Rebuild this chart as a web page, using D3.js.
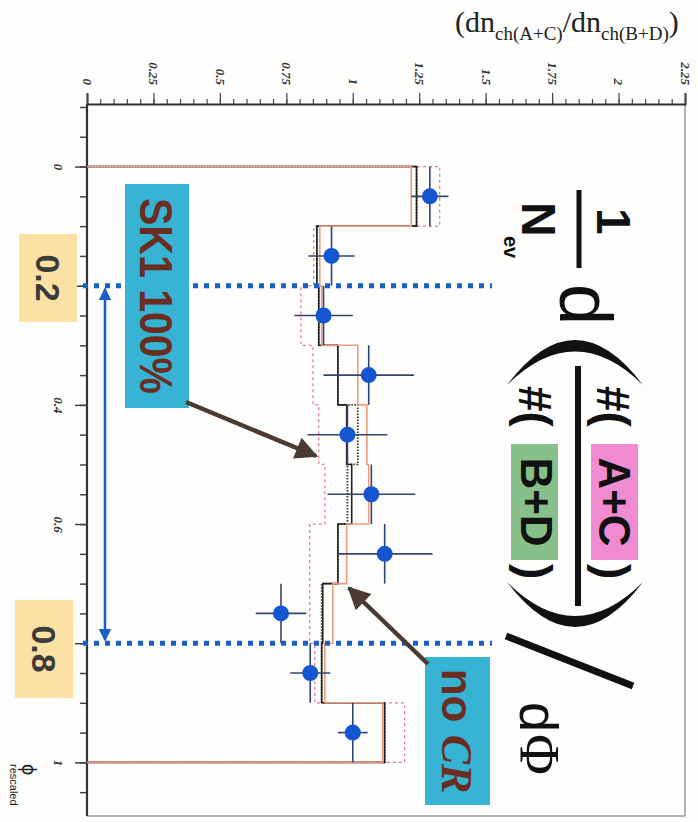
<!DOCTYPE html>
<html>
<head>
<meta charset="utf-8">
<script src="https://cdn.jsdelivr.net/npm/d3@7"></script>
<style>
  body { margin: 0; background: #fff; }
  svg { display: block; }
</style>
</head>
<body>
<svg id="chart" width="698" height="822"></svg>
<script>
// bins of phi (rescaled) and the ratio values
const binEdges = [0, 0.1, 0.2, 0.3, 0.4, 0.5, 0.6, 0.7, 0.8, 0.9, 1.0];
const dataRatio = [1.29, 0.92, 0.89, 1.06, 0.98, 1.07, 1.12, 0.73, 0.84, 1.00];
const dataErr = [0.07, 0.087, 0.11, 0.17, 0.15, 0.165, 0.18, 0.095, 0.075, 0.056];
const mcBlack = [1.24, 0.865, 0.872, 0.944, 0.977, 0.996, 0.944, 0.887, 0.883, 1.12];
const mcSalmon = [1.22, 0.876, 0.883, 1.019, 1.053, 1.06, 0.977, 0.925, 0.895, 1.113];
const mcPink = [1.327, 0.853, 0.805, 0.85, 0.872, 0.895, 0.838, 0.838, 0.857, 1.195];
const mcDotted = [1.24, 0.865, 0.872, 0.944, 1.019, 0.98, 0.944, 0.883, 0.883, 1.12];
const ratioTicks = [0, 0.25, 0.5, 0.75, 1, 1.25, 1.5, 1.75, 2, 2.25];
const phiTicks = [0, 0.2, 0.4, 0.6, 0.8, 1];
const phiMarks = [0.2, 0.8];

const svg = d3.select("#chart");
const phiMin = -0.105, phiMax = 1.09;
const x = d3.scaleLinear().domain([0, 2.25]).range([87, 685]);
const y = d3.scaleLinear().domain([phiMin, phiMax]).range([104, 816]);

svg.append("rect").attr("width", 698).attr("height", 822).attr("fill", "#fdfdfb");

// text turned a quarter clockwise, like the whole scanned plot
function vText(parent, px, py, str) {
    return parent.append("text")
        .attr("transform", `translate(${px},${py}) rotate(90)`)
        .text(str);
}

// frame
svg.append("line").attr("x1", x(2.25)).attr("x2", x(2.25)).attr("y1", y(phiMin)).attr("y2", y(phiMax))
    .attr("stroke", "#999").attr("stroke-width", 1.5);
svg.append("line").attr("x1", x(0)).attr("x2", x(2.25)).attr("y1", y(phiMax)).attr("y2", y(phiMax))
    .attr("stroke", "#999").attr("stroke-width", 1.5);

// ratio axis (top)
const topAxis = svg.append("g").attr("transform", `translate(0,${y(phiMin)})`);
topAxis.append("g")
    .call(d3.axisTop(x).tickValues(d3.range(0, 2.2501, 0.05)).tickSize(5).tickFormat(""))
    .call(g => g.select(".domain").remove());
topAxis.append("g")
    .call(d3.axisTop(x).tickValues(ratioTicks).tickSize(11).tickFormat(d3.format("~g")))
    .call(g => g.select(".domain").attr("stroke", "#333").attr("stroke-width", 2))
    .call(g => g.selectAll("text")
        .attr("y", 0).attr("dy", "0.35em")
        .attr("text-anchor", "end")
        .attr("transform", "translate(0,-19) rotate(90)")
        .attr("font-family", "Liberation Serif")
        .attr("font-style", "italic")
        .attr("font-weight", "bold")
        .attr("font-size", 13)
        .attr("fill", "#333"));
topAxis.selectAll(".tick line").attr("stroke", "#444").attr("stroke-width", 1.2);

// phi axis (left)
const leftAxis = svg.append("g").attr("transform", `translate(${x(0)},0)`);
leftAxis.append("g")
    .call(d3.axisLeft(y).tickValues(d3.range(-0.1, 1.0501, 0.05)).tickSize(7).tickFormat(""))
    .call(g => g.select(".domain").remove());
leftAxis.append("g")
    .call(d3.axisLeft(y).tickValues(phiTicks).tickSize(12).tickFormat(d3.format("~g")))
    .call(g => g.select(".domain").attr("d", `M0,${y(phiMin)}V${y(phiMax)}`)
        .attr("stroke", "#333").attr("stroke-width", 2.2))
    .call(g => g.selectAll("text")
        .attr("x", 0).attr("dy", "0.35em")
        .attr("text-anchor", "middle")
        .attr("transform", "translate(-28,0) rotate(90)")
        .attr("font-family", "Liberation Serif")
        .attr("font-style", "italic")
        .attr("font-weight", "bold")
        .attr("font-size", 13)
        .attr("fill", "#333"));
leftAxis.selectAll(".tick line").attr("stroke", "#444").attr("stroke-width", 1.5);

// axis titles
const yTitle = svg.append("text").attr("x", 455).attr("y", 32)
    .attr("font-family", "Liberation Serif").attr("font-size", 30).attr("fill", "#222");
yTitle.append("tspan").text("(dn");
yTitle.append("tspan").attr("font-size", 19).attr("dy", 8).text("ch(A+C)");
yTitle.append("tspan").attr("dy", -8).text("/dn");
yTitle.append("tspan").attr("font-size", 19).attr("dy", 8).text("ch(B+D)");
yTitle.append("tspan").attr("dy", -8).text(")");

const xTitle = vText(svg, 22, 764, "").attr("font-family", "Liberation Sans").attr("fill", "#222");
xTitle.append("tspan").attr("font-size", 20).text("\u03d5");
xTitle.append("tspan").attr("font-size", 11).attr("x", 0).attr("dy", 12).text("rescaled");

// histograms as vertical steps
function steps(vals) {
    const pts = [[0, binEdges[0]]];
    vals.forEach((v, i) => { pts.push([v, binEdges[i]]); pts.push([v, binEdges[i + 1]]); });
    pts.push([0, binEdges[binEdges.length - 1]]);
    return pts;
}
const stepLine = d3.line().x(d => x(d[0])).y(d => y(d[1]));
const hist = [
    { vals: mcPink, color: "#e4789a", width: 1.2, dash: "3,3" },
    { vals: mcDotted, color: "#333", width: 1.8, dash: "1.5,1.5" },
    { vals: mcBlack, color: "#222", width: 1.6, dash: null },
    { vals: mcSalmon, color: "#eb9c80", width: 1.6, dash: null }
];
svg.append("g").selectAll("path").data(hist).join("path")
    .attr("d", d => stepLine(steps(d.vals)))
    .attr("fill", "none")
    .attr("stroke", d => d.color)
    .attr("stroke-width", d => d.width)
    .attr("stroke-dasharray", d => d.dash);

// data points with error bars
const pts = dataRatio.map((v, i) => ({ v, e: dataErr[i], lo: binEdges[i], hi: binEdges[i + 1] }));
const pg = svg.append("g");
pg.selectAll(".ey").data(pts).join("line")
    .attr("x1", d => x(d.v)).attr("x2", d => x(d.v))
    .attr("y1", d => y(d.lo)).attr("y2", d => y(d.hi))
    .attr("stroke", "#33456c").attr("stroke-width", 1.6);
pg.selectAll(".ex").data(pts).join("line")
    .attr("x1", d => x(d.v - d.e)).attr("x2", d => x(d.v + d.e))
    .attr("y1", d => y((d.lo + d.hi) / 2)).attr("y2", d => y((d.lo + d.hi) / 2))
    .attr("stroke", "#33456c").attr("stroke-width", 1.6);
pg.selectAll("circle").data(pts).join("circle")
    .attr("cx", d => x(d.v)).attr("cy", d => y((d.lo + d.hi) / 2))
    .attr("r", 8).attr("fill", "#1456cf");

// markers
const defs = svg.append("defs");
defs.append("marker").attr("id", "brownHead").attr("viewBox", "0 0 10 10")
    .attr("refX", 9).attr("refY", 5).attr("markerWidth", 6).attr("markerHeight", 5)
    .attr("orient", "auto")
    .append("path").attr("d", "M0,0L10,5L0,10z").attr("fill", "#4b3a31");
defs.append("marker").attr("id", "blueHead").attr("viewBox", "0 0 10 10")
    .attr("refX", 9).attr("refY", 5).attr("markerWidth", 5.5).attr("markerHeight", 5)
    .attr("orient", "auto-start-reverse")
    .append("path").attr("d", "M0,0L10,5L0,10z").attr("fill", "#1a5fc8");

// the 0.2 / 0.8 window
const ann = svg.append("g");
ann.selectAll(".mark").data(phiMarks).join("line")
    .attr("x1", x(0) - 4).attr("x2", 492)
    .attr("y1", d => y(d)).attr("y2", d => y(d))
    .attr("stroke", "#1a5fc8").attr("stroke-width", 5).attr("stroke-dasharray", "5,6");
ann.append("line")
    .attr("x1", 105).attr("x2", 105)
    .attr("y1", y(phiMarks[0]) + 3).attr("y2", y(phiMarks[1]) - 3)
    .attr("stroke", "#1a5fc8").attr("stroke-width", 2.5)
    .attr("marker-start", "url(#blueHead)").attr("marker-end", "url(#blueHead)");

const yellowBoxes = [
    { label: "0.2", x: 19, y: 234, w: 58, h: 88 },
    { label: "0.8", x: 15, y: 600, w: 58, h: 98 }
];
yellowBoxes.forEach(b => {
    ann.append("rect").attr("x", b.x).attr("y", b.y).attr("width", b.w).attr("height", b.h)
        .attr("fill", "#fbe2a4");
    vText(ann, b.x + b.w / 2, b.y + b.h / 2, b.label)
        .attr("text-anchor", "middle").attr("dy", "0.36em")
        .attr("font-family", "Liberation Sans").attr("font-weight", "bold")
        .attr("font-size", 34).attr("fill", "#3a3a3a");
});

// cyan labels and their arrows
ann.append("rect").attr("x", 125).attr("y", 184).attr("width", 64).attr("height", 224).attr("fill", "#37b4d3");
vText(ann, 157, 296, "SK1 100%")
    .attr("text-anchor", "middle").attr("dy", "0.36em")
    .attr("textLength", 196).attr("lengthAdjust", "spacingAndGlyphs")
    .attr("font-family", "Liberation Sans").attr("font-weight", "bold")
    .attr("font-size", 47).attr("fill", "#6b2d22");

ann.append("rect").attr("x", 425).attr("y", 657).attr("width", 65).attr("height", 148).attr("fill", "#37b4d3");
const noCr = vText(ann, 458, 731, "")
    .attr("text-anchor", "middle").attr("dy", "0.36em")
    .attr("font-size", 44).attr("fill", "#6b2d22").attr("font-weight", "bold");
noCr.append("tspan").attr("font-family", "Liberation Sans").text("no ");
noCr.append("tspan").attr("font-family", "Liberation Serif").attr("font-style", "italic").text("CR");

ann.append("line").attr("x1", 186).attr("y1", 402).attr("x2", 316).attr("y2", 456)
    .attr("stroke", "#4b3a31").attr("stroke-width", 4.5).attr("marker-end", "url(#brownHead)");
ann.append("line").attr("x1", 428).attr("y1", 664).attr("x2", 349).attr("y2", 588)
    .attr("stroke", "#4b3a31").attr("stroke-width", 4.5).attr("marker-end", "url(#brownHead)");

// observable formula: 1/N_ev d(#(A+C)/#(B+D))/dPhi
const f = svg.append("g").attr("fill", "#111").attr("font-family", "Liberation Sans");
vText(f, 597, 208, "1").attr("font-size", 48).attr("font-weight", "bold");
f.append("line").attr("x1", 579).attr("x2", 579).attr("y1", 190).attr("y2", 268)
    .attr("stroke", "#111").attr("stroke-width", 5);
vText(f, 522, 202, "N").attr("font-size", 48).attr("font-weight", "bold");
vText(f, 504, 236, "ev").attr("font-size", 20).attr("font-weight", "bold");
vText(f, 560, 284, "d").attr("font-size", 74);

f.append("path").attr("d", "M507,385Q575,295 643,385Q575,318 507,385Z").attr("fill", "#111");
f.append("path").attr("d", "M507,582Q575,672 643,582Q575,650 507,582Z").attr("fill", "#111");
f.append("line").attr("x1", 578).attr("x2", 578).attr("y1", 366).attr("y2", 606)
    .attr("stroke", "#111").attr("stroke-width", 6);

const rows = [
    { text: "A+C", base: 597, fill: "#f08bd2", rx: 591 },
    { text: "B+D", base: 519, fill: "#88c08a", rx: 511 }
];
rows.forEach(r => {
    vText(f, r.base, 386, "#(").attr("font-size", 46).attr("font-weight", "bold");
    f.append("rect").attr("x", r.rx).attr("y", 444).attr("width", 47).attr("height", 116).attr("fill", r.fill);
    vText(f, r.base + 2, 502, r.text).attr("text-anchor", "middle")
        .attr("font-size", 44).attr("font-weight", "bold");
    vText(f, r.base, 564, ")").attr("font-size", 46).attr("font-weight", "bold");
});

f.append("line").attr("x1", 506).attr("y1", 636).attr("x2", 633).attr("y2", 686)
    .attr("stroke", "#111").attr("stroke-width", 7);
vText(f, 520, 702, "d").attr("font-size", 54);
vText(f, 520, 734, "\u03a6").attr("font-size", 56).attr("font-family", "Liberation Serif");
</script>
</body>
</html>
